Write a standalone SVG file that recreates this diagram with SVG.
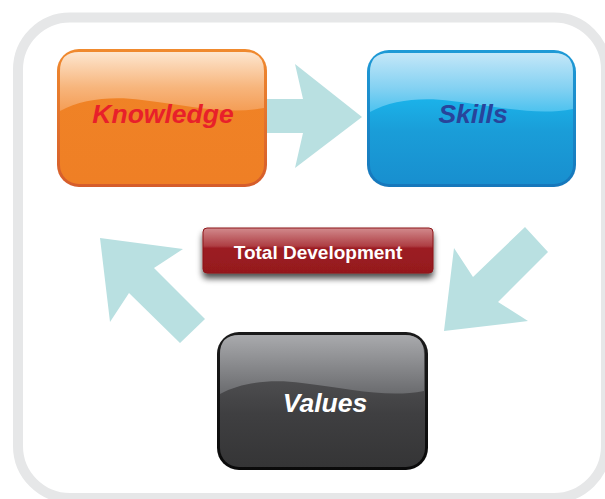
<svg xmlns="http://www.w3.org/2000/svg" width="605" height="499" viewBox="0 0 605 499">
  <defs>
    <style>
      .arrow { fill: #b9e0e1; }
      .label { font-family: "Liberation Sans", Arial, sans-serif; font-weight: bold; font-style: italic; font-size: 26.5px; text-anchor: middle; }
      .tag { font-family: "Liberation Sans", Arial, sans-serif; font-weight: bold; font-size: 19px; text-anchor: middle; fill: #ffffff; }
    </style>
    <linearGradient id="kBorder" x1="0" y1="0" x2="0" y2="1">
      <stop offset="0" stop-color="#f08a2e"/>
      <stop offset="1" stop-color="#d55c2b"/>
    </linearGradient>
    <linearGradient id="kBase" x1="0" y1="0" x2="0" y2="1">
      <stop offset="0" stop-color="#f08426"/>
      <stop offset="1" stop-color="#ef7f25"/>
    </linearGradient>
    <linearGradient id="kGloss" x1="0" y1="0" x2="0" y2="1">
      <stop offset="0" stop-color="#fde6cf"/>
      <stop offset="0.6" stop-color="#f7b57c"/>
      <stop offset="1" stop-color="#f49d55"/>
    </linearGradient>
    <linearGradient id="sBorder" x1="0" y1="0" x2="0" y2="1">
      <stop offset="0" stop-color="#1e9ad6"/>
      <stop offset="1" stop-color="#1677bb"/>
    </linearGradient>
    <linearGradient id="sBase" x1="0" y1="0" x2="0" y2="1">
      <stop offset="0.35" stop-color="#1bb2e9"/>
      <stop offset="0.6" stop-color="#1a9dd8"/>
      <stop offset="1" stop-color="#188fcf"/>
    </linearGradient>
    <linearGradient id="sGloss" x1="0" y1="0" x2="0" y2="1">
      <stop offset="0" stop-color="#c4e7f8"/>
      <stop offset="0.6" stop-color="#83d1f2"/>
      <stop offset="1" stop-color="#4cc2ef"/>
    </linearGradient>
    <linearGradient id="vBorder" x1="0" y1="0" x2="0" y2="1">
      <stop offset="0" stop-color="#1a1a1a"/>
      <stop offset="1" stop-color="#0a0a0a"/>
    </linearGradient>
    <linearGradient id="vBase" x1="0" y1="0" x2="0" y2="1">
      <stop offset="0.35" stop-color="#4d4d4f"/>
      <stop offset="0.6" stop-color="#3f3f41"/>
      <stop offset="1" stop-color="#353536"/>
    </linearGradient>
    <linearGradient id="vGloss" x1="0" y1="0" x2="0" y2="1">
      <stop offset="0" stop-color="#a9aaad"/>
      <stop offset="0.6" stop-color="#838487"/>
      <stop offset="1" stop-color="#6a6b6e"/>
    </linearGradient>
    <linearGradient id="tBase" x1="0" y1="0" x2="0" y2="1">
      <stop offset="0" stop-color="#d28a8d"/>
      <stop offset="0.4" stop-color="#ae3e43"/>
      <stop offset="0.45" stop-color="#9c1c22"/>
      <stop offset="1" stop-color="#95191e"/>
    </linearGradient>
    <filter id="shadow" x="-10%" y="-30%" width="120%" height="180%">
      <feGaussianBlur in="SourceAlpha" stdDeviation="3"/>
      <feOffset dx="0" dy="5" result="b"/>
      <feComponentTransfer><feFuncA type="linear" slope="0.7"/></feComponentTransfer>
      <feMerge><feMergeNode/><feMergeNode in="SourceGraphic"/></feMerge>
    </filter>
    <path id="glossShape" d="M3,62 C25,50 55,47 85,51 C135,57 170,66 207,59 V22 Q207,3 188,3 H22 Q3,3 3,22 Z"/>
  </defs>

  <rect x="18" y="17.5" width="588" height="480.5" rx="52" fill="#ffffff" stroke="#e6e7e8" stroke-width="10"/>

  <g id="connectors">
    <polygon class="arrow" points="255,99 303,99 295,64 362,117 295,168 303,133 255,133"/>
    <polygon class="arrow" points="100,238 183,249 154,268 205,319 180,343 129,293 110,322"/>
    <polygon class="arrow" points="444,331 454,248 473,277 525,227 548,252 498,302 528,321"/>
  </g>

  <g id="knowledge" transform="translate(57,49)">
    <rect x="0" y="0" width="210" height="138" rx="22" fill="url(#kBorder)"/>
    <rect x="3" y="3" width="204" height="132" rx="19" fill="url(#kBase)"/>
    <use href="#glossShape" fill="url(#kGloss)"/>
    <text class="label" x="106" y="74" fill="#e8202a">Knowledge</text>
  </g>

  <g id="skills" transform="translate(367,50)">
    <rect x="0" y="0" width="209" height="137" rx="22" fill="url(#sBorder)"/>
    <rect x="3" y="3" width="203" height="131" rx="19" fill="url(#sBase)"/>
    <use href="#glossShape" fill="url(#sGloss)" transform="scale(0.995,1)"/>
    <text class="label" x="106" y="73" fill="#28449b">Skills</text>
  </g>

  <g id="total-development">
    <rect x="203" y="228" width="230" height="45" rx="4" fill="url(#tBase)" stroke="#8c161b" stroke-width="1" filter="url(#shadow)"/>
    <text class="tag" x="318" y="259">Total Development</text>
  </g>

  <g id="values" transform="translate(217,332)">
    <rect x="0" y="0" width="211" height="138" rx="22" fill="url(#vBorder)"/>
    <rect x="3" y="3" width="205" height="132" rx="19" fill="url(#vBase)"/>
    <use href="#glossShape" fill="url(#vGloss)"/>
    <text class="label" x="108" y="80" fill="#ffffff">Values</text>
  </g>
</svg>
